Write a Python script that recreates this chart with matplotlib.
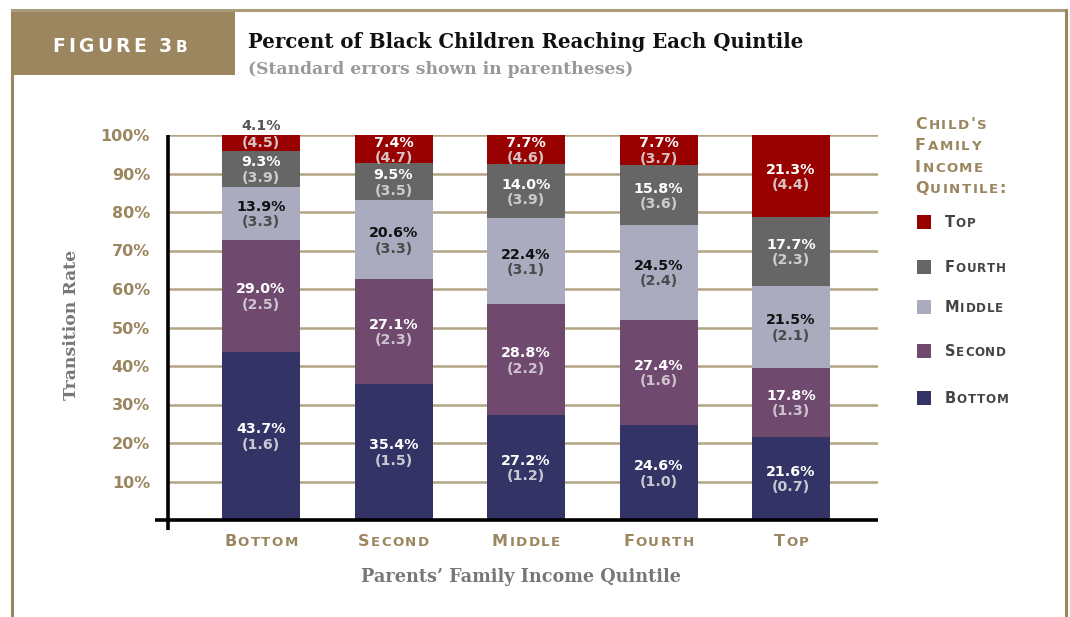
import matplotlib
matplotlib.use('Agg')
import matplotlib.pyplot as plt
from matplotlib.patches import Rectangle
from matplotlib.lines import Line2D
from matplotlib.transforms import IdentityTransform
import numpy as np

# ---------------- data ----------------
parents = ['Bottom', 'Second', 'Middle', 'Fourth', 'Top']
child_levels = ['Bottom', 'Second', 'Middle', 'Fourth', 'Top']
bottom_vals = [43.7, 35.4, 27.2, 24.6, 21.6]
bottom_se = [1.6, 1.5, 1.2, 1.0, 0.7]
second_vals = [29.0, 27.1, 28.8, 27.4, 17.8]
second_se = [2.5, 2.3, 2.2, 1.6, 1.3]
middle_vals = [13.9, 20.6, 22.4, 24.5, 21.5]
middle_se = [3.3, 3.3, 3.1, 2.4, 2.1]
fourth_vals = [9.3, 9.5, 14.0, 15.8, 17.7]
fourth_se = [3.9, 3.5, 3.9, 3.6, 2.3]
top_vals = [4.1, 7.4, 7.7, 7.7, 21.3]
top_se = [4.5, 4.7, 4.6, 3.7, 4.4]
yticks = [10, 20, 30, 40, 50, 60, 70, 80, 90, 100]
ytick_labels = ['10%', '20%', '30%', '40%', '50%', '60%', '70%', '80%', '90%', '100%']

series_vals = [bottom_vals, second_vals, middle_vals, fourth_vals, top_vals]
series_se = [bottom_se, second_se, middle_se, fourth_se, top_se]

# ---------------- style ----------------
TAN = '#9b8660'
TAN_LINE = '#ab9c7c'
GRID = '#b3a584'
colors = ['#333366', '#6f4a6e', '#ababc0', '#666666', '#990000']
pct_colors = ['white', 'white', '#111111', 'white', 'white']
se_colors = ['#c9c9d3', '#cfc3cf', '#4a4a4a', '#cccccc', '#d6c4c4']
SANS = 'DejaVu Sans'
SERIF = 'DejaVu Serif'

W, H = 1070, 617
fig = plt.figure(figsize=(W / 100, H / 100), dpi=100)
fig.patch.set_facecolor('white')

# frame lines
fig.add_artist(Line2D([12 / W, 1066 / W], [(H - 10) / H] * 2, color=TAN_LINE, lw=2.2))
fig.add_artist(Line2D([1066 / W] * 2, [(H - 10) / H, 0], color=TAN, lw=2.2))
fig.add_artist(Line2D([12 / W] * 2, [(H - 75) / H, 0], color=TAN, lw=2.2))
fig.add_artist(Rectangle((11 / W, (H - 75) / H), 224 / W, 65 / H, transform=fig.transFigure,
                         facecolor='#9b8660', edgecolor='none'))

renderer = fig.canvas.get_renderer()


def sc_text(x, y, s, big, small, color, ha='left', track=0.0, weight='bold', family=SANS):
    """Small caps text; x, y in image pixels (y from top) at baseline."""
    pieces = []
    for ch in s:
        if ch == ' ':
            pieces.append((None, big * 0.32 * 100 / 72))
            continue
        if ch.islower():
            size, c = small, ch.upper()
        else:
            size, c = big, ch
        t = fig.text(0, 0, c, fontsize=size, color=color, fontweight=weight, family=family,
                     va='baseline', ha='left', transform=IdentityTransform())
        w = t.get_window_extent(renderer).width
        pieces.append((t, w))
    total = sum(w for _, w in pieces) + track * (len(pieces) - 1)
    if ha == 'center':
        cx = x - total / 2
    elif ha == 'right':
        cx = x - total
    else:
        cx = x
    for t, w in pieces:
        if t is not None:
            t.set_position((cx, H - y))
        cx += w + track


# header
sc_text(52, 52, 'FIGURE 3b', 13.5, 11, 'white', track=3.3)
fig.text(248 / W, (H - 42) / H, 'Percent of Black Children Reaching Each Quintile',
         family=SERIF, fontweight='bold', fontsize=14.2, color='#111111', va='center', ha='left')
fig.text(248 / W, (H - 70) / H, '(Standard errors shown in parentheses)',
         family=SERIF, fontweight='bold', fontsize=12.3, color='#999999', va='center', ha='left')

# ---------------- axes ----------------
ax = fig.add_axes([168 / W, (H - 520) / H, 710 / W, 385 / H])
x = np.arange(len(parents))
bw = 78 / 132.5
ax.set_xlim(-93 / 132.5, 4 + 87 / 132.5)
ax.set_ylim(0, 100)
for sp in ax.spines.values():
    sp.set_visible(False)
ax.set_facecolor('none')
for yv in yticks:
    ax.axhline(yv, color=GRID, lw=1.8, zorder=0)

base = np.zeros(len(parents))
for i, (vals, ses) in enumerate(zip(series_vals, series_se)):
    vals = np.array(vals)
    ax.bar(x, vals, bw, bottom=base, color=colors[i], zorder=2, linewidth=0)
    for j in range(len(parents)):
        center = base[j] + vals[j] / 2
        if vals[j] < 5:
            ax.text(x[j], 102.4, f'{vals[j]:.1f}%', ha='center', va='center', fontsize=10.3,
                    fontweight='bold', color='#555555', family=SANS, zorder=3, clip_on=False)
            ax.text(x[j], center, f'({ses[j]:.1f})', ha='center', va='center', fontsize=10.3,
                    color=se_colors[i], family=SANS, fontweight='bold', zorder=3)
        else:
            ax.text(x[j], center + 1.7, f'{vals[j]:.1f}%', ha='center', va='center', fontsize=10.3,
                    fontweight='bold', color=pct_colors[i], family=SANS, zorder=3)
            ax.text(x[j], center - 2.3, f'({ses[j]:.1f})', ha='center', va='center', fontsize=10.3,
                    color=se_colors[i], family=SANS, fontweight='bold', zorder=3)
    base = base + vals

# axis lines
ax.plot([-13 / 710, 1.0], [0, 0], transform=ax.transAxes, color='black', lw=2.6, clip_on=False,
        zorder=4, solid_capstyle='butt')
ax.plot([0, 0], [-10 / 385, 1.0], transform=ax.transAxes, color='black', lw=2.6, clip_on=False,
        zorder=4, solid_capstyle='butt')

ax.set_yticks(yticks)
ax.set_yticklabels(ytick_labels, family=SANS, fontweight='bold', fontsize=11.5, color=TAN)
ax.tick_params(axis='y', length=0, pad=13)
ax.set_xticks([])

# x tick labels (small caps)
fig.canvas.draw()
for j, p in enumerate(parents):
    xc = ax.transData.transform((x[j], 0))[0]
    sc_text(xc, 546, p, 11.5, 9.6, TAN, ha='center', track=1.4)

fig.text(72 / W, (H - 325) / H, 'Transition Rate', rotation=90, family=SERIF, fontweight='bold',
         fontsize=12.4, color='#777777', ha='center', va='center')
fig.text(521 / W, (H - 577) / H, 'Parents\u2019 Family Income Quintile', family=SERIF,
         fontweight='bold', fontsize=12.7, color='#777777', ha='center', va='center')

# legend
title_lines = ["Child's", 'Family', 'Income', 'Quintile:']
for k, line in enumerate(title_lines):
    sc_text(915, 129 + k * 21.3, line, 11.5, 9.6, TAN, track=1.5)
leg_y = [222, 267, 307, 351, 398]
for i in range(len(child_levels) - 1, -1, -1):
    yy = leg_y[len(child_levels) - 1 - i]
    fig.add_artist(Rectangle((917 / W, (H - yy - 7) / H), 14 / W, 14 / H, transform=fig.transFigure,
                             facecolor=colors[i], edgecolor='none'))
    sc_text(945, yy + 5, child_levels[i], 10.5, 8.6, '#444444', track=0.7)

fig.savefig('out.png', dpi=100, facecolor='white')
